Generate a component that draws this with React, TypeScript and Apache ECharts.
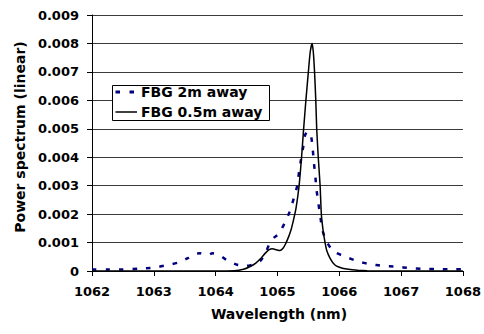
import React, { useEffect, useRef } from "react";
import * as echarts from "echarts";

// Tick labels
const xTicks = [1062, 1063, 1064, 1065, 1066, 1067, 1068];
const yTicks = [0, 0.001, 0.002, 0.003, 0.004, 0.005, 0.006, 0.007, 0.008, 0.009];

const seriesNames = ["FBG 2m away", "FBG 0.5m away"];

// FBG 2m away (dashed)
const farWl = [
  1062.0, 1062.25, 1062.5, 1062.75, 1063.0, 1063.2, 1063.4, 1063.55, 1063.65, 1063.75,
  1063.85, 1063.95, 1064.05, 1064.2, 1064.35, 1064.5, 1064.62, 1064.72, 1064.8, 1064.87,
  1064.95, 1065.02, 1065.12, 1065.2, 1065.27, 1065.32, 1065.35, 1065.38, 1065.42, 1065.45,
  1065.5, 1065.54, 1065.57, 1065.59, 1065.61, 1065.63, 1065.66, 1065.69, 1065.72, 1065.78,
  1065.9, 1066.1, 1066.3, 1066.5, 1066.7, 1066.93, 1067.14, 1067.34, 1067.56, 1067.77, 1068.0,
];
const farPow = [
  0.00005, 0.00005, 0.00005, 0.00008, 0.00012, 0.0002, 0.0003, 0.00045, 0.0006, 0.00062,
  0.00054, 0.00062, 0.00058, 0.00035, 0.00022, 0.00018, 0.00024, 0.00035, 0.0006, 0.00095,
  0.00118, 0.0013, 0.0017, 0.0021, 0.0026, 0.003, 0.0035, 0.0039, 0.0044, 0.0048,
  0.0049, 0.0048, 0.0043, 0.0038, 0.0034, 0.0029, 0.0024, 0.002, 0.0015, 0.0011,
  0.0007, 0.0005, 0.00034, 0.00024, 0.00018, 0.00015, 0.0001, 0.00008, 0.00007, 0.00006, 0.00006,
];

// FBG 0.5m away (solid)
const nearWl = [
  1062.0, 1063.0, 1064.0, 1064.3, 1064.45, 1064.55, 1064.65, 1064.72, 1064.8, 1064.86,
  1064.92, 1064.98, 1065.04, 1065.09, 1065.13, 1065.18, 1065.22, 1065.26, 1065.3, 1065.35,
  1065.39, 1065.42, 1065.46, 1065.5, 1065.53, 1065.56, 1065.58, 1065.6, 1065.62, 1065.635,
  1065.66, 1065.69, 1065.71, 1065.74, 1065.77, 1065.8, 1065.85, 1065.9, 1065.95, 1066.05,
  1066.15, 1066.3, 1066.45, 1066.6, 1067.0, 1068.0,
];
const nearPow = [
  0, 0, 0, 0.00001, 0.00006, 0.00015, 0.00028, 0.00042, 0.00062, 0.00074,
  0.00078, 0.00075, 0.00072, 0.0008, 0.00095, 0.0012, 0.00145, 0.0018, 0.0022, 0.003,
  0.004, 0.0049, 0.006, 0.007, 0.0077, 0.008, 0.0077, 0.007, 0.006, 0.005,
  0.004, 0.003, 0.002, 0.0014, 0.001, 0.0007, 0.00045, 0.00028, 0.00018, 0.0001,
  0.00006, 0.00003, 0.00001, 0, 0, 0,
];

const FONT = "DejaVu Sans";
const FAR_COLOR = "#000080";
const NEAR_COLOR = "#000000";

export default function App() {
  const ref = useRef<HTMLDivElement>(null);
  useEffect(() => {
    document.body.style.margin = "0";
    if (!ref.current) return;
    const chart = echarts.init(ref.current, null, { renderer: "svg" });
    const zip = (xs: number[], ys: number[]) => xs.map((x, i) => [x, ys[i]]);
    const legendText = (text: string, y: number) => ({
      type: "text",
      x: 141,
      y,
      z: 101,
      style: {
        text,
        fontFamily: FONT,
        fontWeight: "bold",
        fontSize: 14,
        fill: "#000",
        textAlign: "left",
        textVerticalAlign: "middle",
      },
    });
    chart.setOption({
      animation: false,
      backgroundColor: "#ffffff",
      textStyle: { fontFamily: FONT },
      grid: { left: 92, right: 18, top: 15, bottom: 63 },
      xAxis: {
        type: "value",
        min: xTicks[0],
        max: xTicks[xTicks.length - 1],
        interval: 1,
        axisLine: { show: true, lineStyle: { color: "#000", width: 1 } },
        axisTick: { show: true, inside: false, length: 5, lineStyle: { color: "#000" } },
        splitLine: { show: false },
        axisLabel: {
          margin: 14,
          fontFamily: FONT,
          fontWeight: "bold",
          fontSize: 13,
          color: "#000",
          formatter: (v: number) => String(Math.round(v)),
        },
      },
      yAxis: {
        type: "value",
        min: yTicks[0],
        max: yTicks[yTicks.length - 1],
        interval: 0.001,
        axisLine: { show: true, lineStyle: { color: "#000", width: 1 } },
        axisTick: { show: true, inside: false, length: 5, lineStyle: { color: "#000" } },
        splitLine: { show: true, lineStyle: { color: "#3a3a3a", width: 1 } },
        axisLabel: {
          margin: 13,
          fontFamily: FONT,
          fontWeight: "bold",
          fontSize: 13,
          color: "#000",
          formatter: (v: number) => (Math.abs(v) < 1e-9 ? "0" : v.toFixed(3)),
        },
      },
      graphic: [
        {
          type: "text",
          x: 20,
          y: 137,
          rotation: Math.PI / 2,
          z: 100,
          style: {
            text: "Power spectrum (linear)",
            fontFamily: FONT,
            fontWeight: "bold",
            fontSize: 14,
            fill: "#000",
            textAlign: "center",
            textVerticalAlign: "middle",
          },
        },
        {
          type: "text",
          x: 279,
          y: 314,
          z: 100,
          style: {
            text: "Wavelength (nm)",
            fontFamily: FONT,
            fontWeight: "bold",
            fontSize: 14,
            fill: "#000",
            textAlign: "center",
            textVerticalAlign: "middle",
          },
        },
        {
          type: "rect",
          z: 100,
          shape: { x: 112.5, y: 85.5, width: 157, height: 35 },
          style: { fill: "#ffffff", stroke: "#000000", lineWidth: 1 },
        },
        {
          type: "line",
          z: 101,
          shape: { x1: 115.5, y1: 92, x2: 137, y2: 92 },
          style: { stroke: FAR_COLOR, lineWidth: 3, lineDash: [4.5, 9.5] },
        },
        {
          type: "line",
          z: 101,
          shape: { x1: 115.5, y1: 112, x2: 137, y2: 112 },
          style: { stroke: NEAR_COLOR, lineWidth: 1.5 },
        },
        legendText(seriesNames[0], 92),
        legendText(seriesNames[1], 112),
      ],
      series: [
        {
          name: seriesNames[0],
          type: "line",
          data: zip(farWl, farPow),
          symbol: "none",
          smooth: 0.2,
          lineStyle: { color: FAR_COLOR, width: 2.5, type: [4.5, 9] },
          itemStyle: { color: FAR_COLOR },
          z: 2,
        },
        {
          name: seriesNames[1],
          type: "line",
          data: zip(nearWl, nearPow),
          symbol: "none",
          smooth: 0.2,
          lineStyle: { color: NEAR_COLOR, width: 1.5, type: "solid" },
          itemStyle: { color: NEAR_COLOR },
          z: 3,
        },
      ],
    });
    return () => chart.dispose();
  }, []);
  return <div ref={ref} style={{ width: 484, height: 334 }} />;
}
